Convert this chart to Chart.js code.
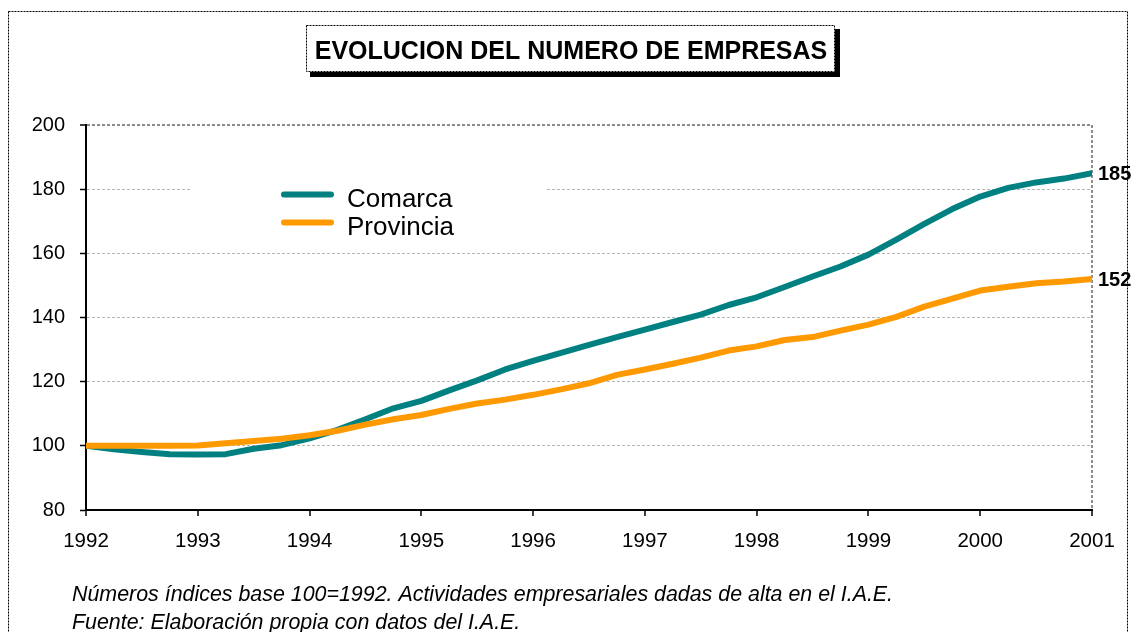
<!DOCTYPE html>
<html>
<head>
<meta charset="utf-8">
<script src="https://cdn.jsdelivr.net/npm/chart.js@4/dist/chart.umd.min.js"></script>
<style>
  html, body { margin: 0; padding: 0; background: #ffffff; }
  #wrap { position: relative; width: 1133px; height: 632px; }
</style>
</head>
<body>
<div id="wrap"><canvas id="c" width="1133" height="632"></canvas></div>
<script>
// ---- data (quarterly index values, 1992 = 100) ----
const periods = [1992, 1992.25, 1992.5, 1992.75, 1993, 1993.25, 1993.5, 1993.75,
  1994, 1994.25, 1994.5, 1994.75, 1995, 1995.25, 1995.5, 1995.75,
  1996, 1996.25, 1996.5, 1996.75, 1997, 1997.25, 1997.5, 1997.75,
  1998, 1998.25, 1998.5, 1998.75, 1999, 1999.25, 1999.5, 1999.75,
  2000, 2000.25, 2000.5, 2000.75, 2001];
const comarca = [100, 98.9, 98.1, 97.4, 97.3, 97.4, 99.1, 100.2,
  102.3, 105.0, 108.3, 111.7, 114.0, 117.3, 120.4, 123.8,
  126.5, 129.0, 131.5, 133.9, 136.2, 138.6, 140.9, 143.9,
  146.3, 149.5, 152.8, 155.9, 159.6, 164.3, 169.2, 173.8,
  177.7, 180.4, 182.1, 183.3, 185.0];
const provincia = [100, 100, 100, 100, 100.1, 100.8, 101.5, 102.2,
  103.3, 104.7, 106.6, 108.3, 109.6, 111.5, 113.2, 114.4,
  115.9, 117.6, 119.5, 122.1, 123.8, 125.6, 127.5, 129.7,
  131.0, 133.0, 133.9, 135.9, 137.8, 140.2, 143.4, 145.9,
  148.4, 149.6, 150.7, 151.25, 152.0];
const seriesNames = ['Comarca', 'Provincia'];
const yearTicks = [1992, 1993, 1994, 1995, 1996, 1997, 1998, 1999, 2000, 2001];
const yTicks = [80, 100, 120, 140, 160, 180, 200];
const titleText = 'EVOLUCION DEL NUMERO DE EMPRESAS';
const endLabels = ['185', '152'];
const footnotes = [
  'Números índices base 100=1992. Actividades empresariales dadas de alta en el I.A.E.',
  'Fuente: Elaboración propia con datos del I.A.E.'
];

const FONT = '"Liberation Sans", Arial, Helvetica, sans-serif';
const TEAL = '#008080';
const ORANGE = '#FF9900';

const toPoints = (vals) => vals.map((v, i) => ({ x: periods[i], y: v }));

const decorations = {
  id: 'decorations',
  afterDraw(chart) {
    const ctx = chart.ctx;
    const xs = chart.scales.x, ys = chart.scales.y;
    ctx.save();

    // outer dashed frame
    ctx.strokeStyle = '#000';
    ctx.lineWidth = 1;
    ctx.setLineDash([2, 1]);
    ctx.strokeRect(8.5, 11.5, 1119, 640);

    // title box with shadow
    ctx.setLineDash([]);
    ctx.fillStyle = '#000';
    ctx.fillRect(310, 29, 530, 48);
    ctx.fillStyle = '#fff';
    ctx.fillRect(306, 25, 529, 47);
    ctx.strokeStyle = '#000';
    ctx.setLineDash([2, 1]);
    ctx.strokeRect(306.5, 25.5, 528, 46);
    ctx.setLineDash([]);
    ctx.fillStyle = '#000';
    ctx.font = 'bold 25px ' + FONT;
    ctx.textAlign = 'center';
    ctx.textBaseline = 'alphabetic';
    ctx.fillText(titleText, 571, 59);

    // legend (white box covering gridline)
    ctx.fillStyle = '#fff';
    ctx.fillRect(190, 172, 356, 66);
    const colors = chart.data.datasets.map(d => d.borderColor);
    const legendY = [194.5, 222.5];
    ctx.lineCap = 'round';
    ctx.lineWidth = 6;
    seriesNames.forEach((name, i) => {
      ctx.strokeStyle = colors[i];
      ctx.beginPath();
      ctx.moveTo(284, legendY[i]);
      ctx.lineTo(331, legendY[i]);
      ctx.stroke();
      ctx.fillStyle = '#000';
      ctx.font = '26px ' + FONT;
      ctx.textAlign = 'left';
      ctx.textBaseline = 'alphabetic';
      ctx.fillText(name, 347, legendY[i] + 12.5);
    });

    // end labels
    ctx.font = 'bold 20px ' + FONT;
    ctx.fillStyle = '#000';
    ctx.textAlign = 'left';
    ctx.textBaseline = 'middle';
    chart.data.datasets.forEach((ds, i) => {
      const last = ds.data[ds.data.length - 1];
      ctx.fillText(endLabels[i], xs.right + 6, ys.getPixelForValue(last.y) + 1.5);
    });

    // footnotes
    ctx.font = 'italic 21.4px ' + FONT;
    ctx.textBaseline = 'alphabetic';
    ctx.fillText(footnotes[0], 72, 601);
    ctx.fillText(footnotes[1], 72, 628.5);

    ctx.restore();
  }
};

new Chart(document.getElementById('c'), {
  type: 'line',
  data: {
    datasets: [
      { label: seriesNames[0], data: toPoints(comarca), borderColor: TEAL, borderWidth: 6,
        pointRadius: 0, tension: 0, fill: false, order: 1,
        borderCapStyle: 'round', borderJoinStyle: 'round' },
      { label: seriesNames[1], data: toPoints(provincia), borderColor: ORANGE, borderWidth: 6,
        pointRadius: 0, tension: 0, fill: false, order: 0,
        borderCapStyle: 'round', borderJoinStyle: 'round' }
    ]
  },
  options: {
    responsive: false,
    animation: false,
    events: [],
    layout: { padding: { left: 0, right: 41, top: 125, bottom: 0 } },
    plugins: { legend: { display: false }, title: { display: false }, tooltip: { enabled: false } },
    scales: {
      x: {
        type: 'linear',
        min: yearTicks[0], max: yearTicks[yearTicks.length - 1],
        afterBuildTicks: (s) => { s.ticks = yearTicks.map(v => ({ value: v })); },
        afterFit: (s) => { s.height = 122; },
        ticks: {
          color: '#000', padding: 13,
          font: { family: FONT, size: 20.5 },
          callback: (v) => String(v),
          maxRotation: 0, autoSkip: false
        },
        grid: {
          drawOnChartArea: true,
          color: (c) => (c.tick && c.tick.value === 2001) ? '#8c8c8c' : 'rgba(0,0,0,0)',
          lineWidth: 2,
          tickColor: '#000', tickLength: 6, tickWidth: 1.5, tickBorderDash: []
        },
        border: { display: true, color: '#000', width: 2, dash: [3, 2] }
      },
      y: {
        type: 'linear',
        min: yTicks[0], max: yTicks[yTicks.length - 1],
        afterBuildTicks: (s) => { s.ticks = yTicks.map(v => ({ value: v })); },
        afterFit: (s) => { s.width = 86; },
        ticks: {
          color: '#000', padding: 15,
          font: { family: FONT, size: 20 },
          callback: (v) => String(v)
        },
        grid: {
          drawOnChartArea: true,
          color: (c) => (c.tick && c.tick.value === 200) ? '#8c8c8c' : '#b5b5b5',
          lineWidth: (c) => (c.tick && c.tick.value === 200) ? 2 : 1,
          tickColor: '#000', tickLength: 6, tickWidth: 1.5, tickBorderDash: []
        },
        border: { display: true, color: '#000', width: 2, dash: [3, 2] }
      }
    }
  },
  plugins: [decorations]
});
</script>
</body>
</html>
